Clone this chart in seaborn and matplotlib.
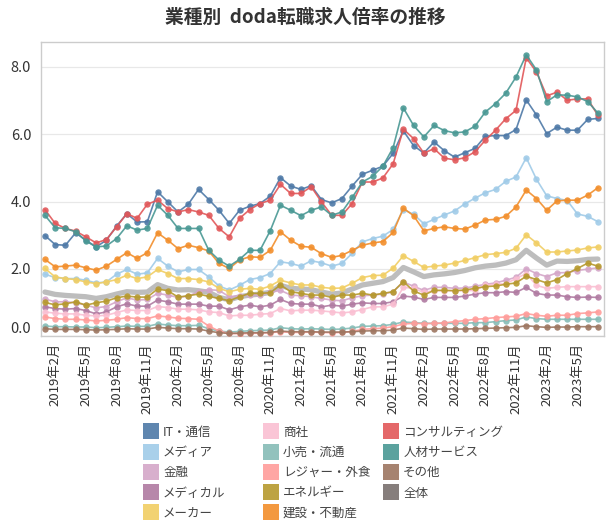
import numpy as np
import pandas as pd
import matplotlib
matplotlib.use("Agg")
import matplotlib.pyplot as plt
import seaborn as sns
from matplotlib.lines import Line2D

sns.set_theme(style="white")
plt.rcParams['font.family'] = ['Noto Sans CJK JP', 'DejaVu Sans']

months = pd.date_range("2019-01-01", "2023-07-01", freq="MS")
month_labels = [f"{d.year}年{d.month}月" for d in months]

it_tsushin = [2.99, 2.72, 2.70, 3.07, 2.85, 2.65, 2.85, 3.27, 3.64, 3.39, 3.40, 4.29, 3.99, 3.69, 3.92, 4.36, 4.06, 3.74, 3.35,
              3.74, 3.86, 3.94, 4.16, 4.71, 4.46, 4.36, 4.47, 4.06, 3.96, 4.09, 4.46, 4.81, 4.93, 5.05, 5.43,
              6.10, 5.66, 5.44, 5.77, 5.51, 5.32, 5.45, 5.58, 5.94, 5.96, 5.96, 6.14, 7.02, 6.57, 6.02, 6.21, 6.12, 6.12, 6.44, 6.47]
media = [1.84, 1.74, 1.71, 1.71, 1.66, 1.58, 1.61, 1.84, 1.98, 1.84, 1.88, 2.31, 2.08, 1.91, 1.98, 1.98, 1.76, 1.49, 1.37,
         1.51, 1.68, 1.74, 1.86, 2.21, 2.16, 2.08, 2.24, 2.18, 2.08, 2.16, 2.46, 2.80, 2.90, 2.97, 3.17,
         3.76, 3.62, 3.34, 3.47, 3.60, 3.72, 3.93, 4.10, 4.26, 4.36, 4.60, 4.73, 5.30, 4.66, 4.17, 4.09, 4.03, 3.63, 3.56, 3.40]
kinyu = [1.10, 1.02, 1.02, 0.99, 0.92, 0.84, 0.88, 1.02, 1.14, 1.07, 1.09, 1.27, 1.22, 1.15, 1.19, 1.32, 1.38, 1.36, 1.17,
         1.20, 1.22, 1.22, 1.30, 1.36, 1.22, 1.20, 1.17, 1.12, 1.07, 1.05, 1.14, 1.20, 1.22, 1.25, 1.32,
         1.61, 1.48, 1.36, 1.45, 1.45, 1.42, 1.43, 1.48, 1.54, 1.58, 1.66, 1.75, 2.00, 1.86, 1.77, 1.88, 1.89, 1.95, 1.99, 2.03]
medical = [0.87, 0.82, 0.80, 0.82, 0.76, 0.66, 0.72, 0.87, 0.96, 0.89, 0.89, 1.07, 1.02, 0.95, 0.95, 0.95, 0.89, 0.89, 0.78,
           0.87, 0.92, 0.87, 0.92, 1.09, 0.97, 0.95, 0.95, 0.87, 0.92, 0.89, 0.95, 0.99, 0.97, 0.97, 1.02,
           1.19, 1.16, 1.09, 1.15, 1.15, 1.15, 1.19, 1.25, 1.29, 1.29, 1.32, 1.30, 1.45, 1.27, 1.22, 1.22, 1.17, 1.15, 1.16, 1.15]
maker = [2.01, 1.76, 1.71, 1.68, 1.61, 1.56, 1.61, 1.68, 1.81, 1.71, 1.76, 1.98, 1.86, 1.71, 1.71, 1.68, 1.61, 1.42, 1.32,
         1.39, 1.42, 1.39, 1.49, 1.66, 1.58, 1.52, 1.52, 1.45, 1.42, 1.43, 1.57, 1.74, 1.80, 1.81, 2.02,
         2.39, 2.22, 2.04, 2.08, 2.11, 2.17, 2.25, 2.33, 2.42, 2.45, 2.49, 2.61, 3.01, 2.77, 2.50, 2.50, 2.53, 2.56, 2.62, 2.65]
shosha = [0.72, 0.68, 0.66, 0.66, 0.62, 0.60, 0.62, 0.70, 0.78, 0.76, 0.76, 0.88, 0.85, 0.80, 0.80, 0.78, 0.72, 0.70, 0.60,
          0.62, 0.62, 0.65, 0.67, 0.82, 0.75, 0.77, 0.77, 0.75, 0.72, 0.69, 0.72, 0.79, 0.87, 0.87, 0.95,
          1.45, 1.42, 1.30, 1.35, 1.35, 1.35, 1.35, 1.36, 1.51, 1.54, 1.56, 1.71, 1.86, 1.51, 1.42, 1.45, 1.47, 1.47, 1.47, 1.47]
kouri = [0.30, 0.28, 0.28, 0.27, 0.27, 0.25, 0.26, 0.28, 0.30, 0.29, 0.29, 0.36, 0.33, 0.31, 0.31, 0.32, 0.22, 0.15, 0.12,
         0.14, 0.16, 0.17, 0.18, 0.25, 0.22, 0.21, 0.22, 0.21, 0.20, 0.21, 0.24, 0.29, 0.30, 0.31, 0.35,
         0.42, 0.40, 0.38, 0.38, 0.38, 0.38, 0.38, 0.40, 0.40, 0.43, 0.46, 0.48, 0.57, 0.52, 0.50, 0.50, 0.50, 0.50, 0.50, 0.50]
leisure = [0.57, 0.52, 0.50, 0.50, 0.48, 0.45, 0.47, 0.50, 0.55, 0.52, 0.52, 0.60, 0.57, 0.53, 0.52, 0.50, 0.30, 0.15, 0.08,
           0.07, 0.08, 0.09, 0.10, 0.13, 0.11, 0.11, 0.12, 0.11, 0.10, 0.11, 0.14, 0.20, 0.22, 0.24, 0.28,
           0.36, 0.38, 0.37, 0.38, 0.39, 0.43, 0.46, 0.50, 0.52, 0.55, 0.57, 0.59, 0.67, 0.62, 0.59, 0.62, 0.62, 0.67, 0.69, 0.72]
energy = [1.00, 0.93, 0.96, 1.02, 0.92, 0.99, 1.04, 1.14, 1.19, 1.16, 1.16, 1.40, 1.35, 1.16, 1.20, 1.25, 1.18, 1.12, 1.05,
          1.17, 1.27, 1.27, 1.29, 1.52, 1.32, 1.27, 1.22, 1.22, 1.15, 1.22, 1.22, 1.27, 1.22, 1.27, 1.32,
          1.62, 1.34, 1.22, 1.36, 1.36, 1.35, 1.37, 1.42, 1.47, 1.49, 1.54, 1.58, 1.78, 1.68, 1.58, 1.68, 1.86, 2.01, 2.17, 2.08]
kensetsu = [2.28, 2.06, 2.08, 2.11, 2.03, 1.96, 2.08, 2.28, 2.48, 2.31, 2.48, 3.07, 2.85, 2.60, 2.70, 2.63, 2.53, 2.16, 2.01,
            2.26, 2.36, 2.34, 2.55, 3.10, 2.85, 2.67, 2.64, 2.45, 2.34, 2.40, 2.55, 2.70, 2.77, 2.81, 3.08,
            3.80, 3.58, 3.13, 3.20, 3.25, 3.20, 3.18, 3.30, 3.45, 3.47, 3.56, 3.84, 4.34, 4.09, 3.74, 4.02, 4.04, 4.04, 4.19, 4.41]
consulting = [3.76, 3.35, 3.20, 3.12, 2.95, 2.77, 2.87, 3.25, 3.64, 3.50, 3.92, 4.04, 3.79, 3.69, 3.76, 3.69, 3.59, 3.20, 2.95,
              3.50, 3.76, 3.94, 4.04, 4.51, 4.24, 4.24, 4.44, 3.99, 3.59, 3.59, 3.94, 4.58, 4.58, 4.70, 5.12,
              6.15, 5.87, 5.44, 5.57, 5.29, 5.24, 5.30, 5.48, 5.82, 6.12, 6.46, 6.71, 8.27, 7.85, 7.14, 7.25, 7.01, 7.05, 7.05, 6.56]
jinzai = [3.59, 3.22, 3.20, 3.10, 2.83, 2.65, 2.68, 2.90, 3.28, 3.15, 3.20, 3.89, 3.59, 3.20, 3.20, 3.20, 2.55, 2.26, 2.08,
          2.28, 2.55, 2.55, 3.13, 3.89, 3.74, 3.58, 3.74, 3.84, 3.59, 3.69, 4.12, 4.58, 4.75, 5.05, 5.60,
          6.78, 6.26, 5.92, 6.26, 6.11, 6.04, 6.07, 6.24, 6.66, 6.91, 7.22, 7.70, 8.36, 7.91, 6.97, 7.17, 7.16, 7.11, 6.97, 6.63]
sonota = [0.22, 0.20, 0.20, 0.20, 0.19, 0.18, 0.19, 0.20, 0.22, 0.21, 0.21, 0.26, 0.24, 0.22, 0.22, 0.21, 0.15, 0.10, 0.08,
          0.09, 0.10, 0.10, 0.11, 0.15, 0.13, 0.13, 0.13, 0.12, 0.12, 0.12, 0.13, 0.15, 0.16, 0.16, 0.18,
          0.24, 0.22, 0.20, 0.21, 0.21, 0.21, 0.21, 0.22, 0.23, 0.24, 0.25, 0.26, 0.31, 0.28, 0.26, 0.27, 0.27, 0.28, 0.28, 0.28]
zentai = [1.31, 1.24, 1.21, 1.19, 1.17, 1.12, 1.17, 1.25, 1.32, 1.30, 1.31, 1.53, 1.42, 1.37, 1.38, 1.35, 1.30, 1.15, 1.08,
          1.17, 1.22, 1.25, 1.30, 1.51, 1.42, 1.40, 1.38, 1.31, 1.25, 1.28, 1.40, 1.52, 1.57, 1.62, 1.74,
          2.04, 1.91, 1.77, 1.82, 1.85, 1.89, 1.95, 2.03, 2.08, 2.11, 2.17, 2.27, 2.55, 2.32, 2.11, 2.23, 2.22, 2.24, 2.28, 2.29]

series_names = ["IT・通信", "メディア", "金融", "メディカル", "メーカー",
                "商社", "小売・流通", "レジャー・外食", "エネルギー", "建設・不動産",
                "コンサルティング", "人材サービス", "その他", "全体"]
series_values = [it_tsushin, media, kinyu, medical, maker,
                 shosha, kouri, leisure, energy, kensetsu,
                 consulting, jinzai, sonota, zentai]
colors = ["#4e79a7", "#a0cbe8", "#d4a6c8", "#b07aa1", "#f1ce63",
          "#fabfd2", "#86bcb6", "#ff9d9a", "#b6992d", "#f28e2b",
          "#e15759", "#499894", "#9d7660", "#79706e"]
palette = dict(zip(series_names, colors))

rows = []
for name, vals in zip(series_names, series_values):
    for i, v in enumerate(vals):
        rows.append({"idx": i, "value": v, "業種": name})
df = pd.DataFrame(rows)

fig = plt.figure(figsize=(6.11, 5.26), dpi=100)
ax = fig.add_axes([0.067, 0.361, 0.9215, 0.5597])

# overall line: thick light gray
sns.lineplot(data=df[df["業種"] == "全体"], x="idx", y="value", ax=ax,
             color="#bdbdbd", linewidth=3.8, legend=False, zorder=2)

others = df[df["業種"] != "全体"]
sns.lineplot(data=others, x="idx", y="value", hue="業種", palette=palette,
             hue_order=series_names[:-1], ax=ax, marker="o", markersize=4.6,
             markeredgewidth=0, linewidth=1.2, alpha=0.9, legend=False, zorder=3)

ax.set_xlim(-0.39, 54.59)
ax.set_ylim(0, 8.75)
ax.set_yticks([0, 2, 4, 6, 8])
ax.set_yticklabels(["0.0", "2.0", "4.0", "6.0", "8.0"])
tick_idx = list(range(1, len(months), 3))
ax.set_xticks(tick_idx)
ax.set_xticklabels([month_labels[i] for i in tick_idx], rotation=90)
ax.tick_params(axis="y", length=0, labelsize=10.5, colors="#333333", pad=7)
ax.tick_params(axis="x", length=0, labelsize=9.5, colors="#333333", pad=5)
for lab in ax.get_yticklabels():
    if lab.get_text() == "0.0":
        lab.set_va("bottom")
ax.set_xlabel("")
ax.set_ylabel("")
ax.yaxis.grid(True, color="#e8e8e8", linewidth=0.9)
ax.xaxis.grid(False)
for sp in ax.spines.values():
    sp.set_color("#cccccc")
    sp.set_linewidth(1.0)

fig.text(0.5, 0.967, "業種別  doda転職求人倍率の推移", ha="center", va="center",
         fontsize=13.5, fontweight="bold", color="#333333")

col_x = [0.229, 0.425, 0.622]
groups = [series_names[0:5], series_names[5:10], series_names[10:14]]
for cx, grp in zip(col_x, groups):
    handles = [Line2D([0], [0], marker="s", linestyle="", markersize=11.5,
                      markerfacecolor=palette[n], markeredgewidth=0, alpha=0.9)
               for n in grp]
    leg = fig.legend(handles, grp, loc="upper left", bbox_to_anchor=(cx, 0.2),
                     frameon=False, fontsize=9, handletextpad=0.45,
                     labelspacing=0.58, borderaxespad=0, handlelength=1.0)
    for t in leg.get_texts():
        t.set_color("#444444")

fig.savefig("out.png", dpi=100)
